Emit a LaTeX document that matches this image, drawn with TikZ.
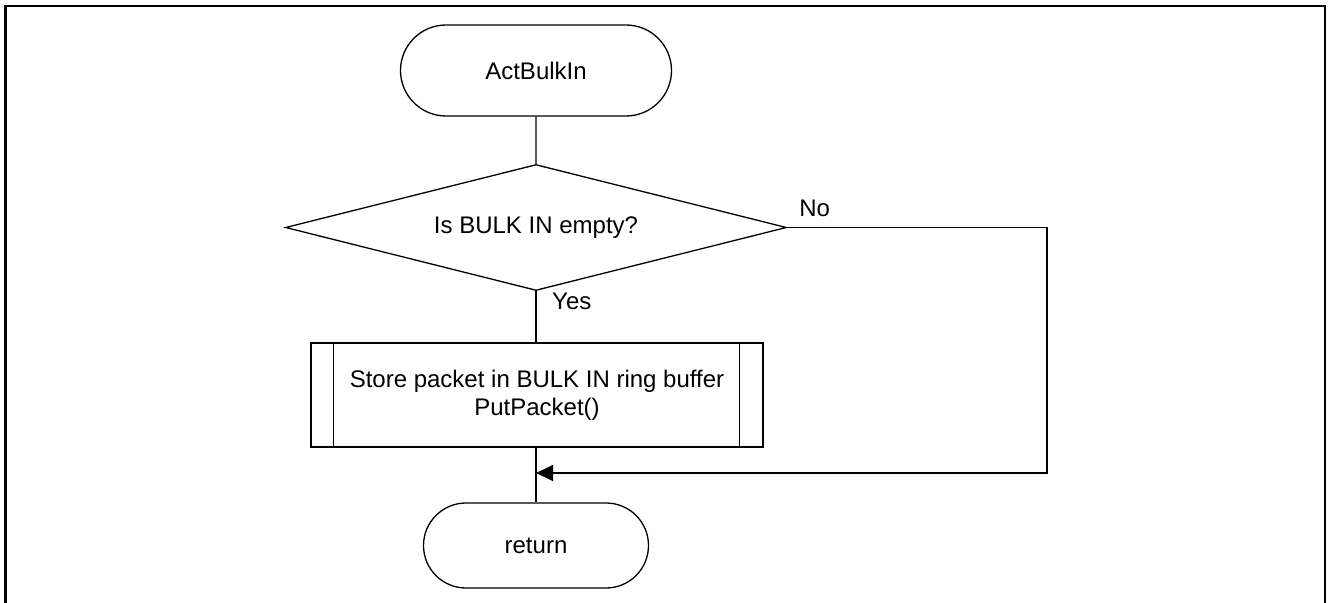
\documentclass[tikz,border=0pt]{standalone}
\usepackage{fontspec}
\setmainfont{Liberation Sans}
\usetikzlibrary{shapes.geometric,shapes.misc,arrows.meta}
\tikzset{
  base/.style={draw=black, line width=1.3bp, inner sep=0pt, align=center,
    font=\fontsize{24bp}{28bp}\selectfont},
  terminal/.style={base, rounded rectangle},
  decision/.style={base, diamond, aspect=4},
  subproc/.style={base, rectangle},
  conn/.style={draw=black, line width=1.3bp},
  lbl/.style={inner sep=0pt, font=\fontsize{24bp}{28bp}\selectfont},
  frame/.style={draw=black, line width=2.2bp}
}
\begin{document}
\begin{tikzpicture}[x=1bp,y=-1bp]
\useasboundingbox (0,0) rectangle (1328,603);
\draw[frame] (5.5,610) -- (5.5,6) -- (1325,6) -- (1325,610);

\node[terminal, minimum width=271bp, minimum height=91bp] (start) at (536,70.5) {ActBulkIn};
\node[decision, minimum width=501bp, minimum height=126bp] (dia) at (536,227.5) {Is BULK IN empty?};
\node[subproc, minimum width=452bp, minimum height=104bp] (box) at (537,395)
  {Store packet in BULK IN ring buffer\\PutPacket()};
\draw[conn] ([xshift=23bp]box.north west) -- ([xshift=23bp]box.south west);
\draw[conn] ([xshift=-24bp]box.north east) -- ([xshift=-24bp]box.south east);
\node[terminal, minimum width=225bp, minimum height=85bp] (ret) at (536,545.5) {return};

\coordinate (join) at (536,473);
\coordinate (rc) at (1047,473);

\draw[conn] (start) -- (dia);
\draw[conn] (dia.south) -- (dia.south |- box.north);
\draw[conn] (box.south -| ret.north) -- (ret.north);
\draw[conn, -{Triangle[length=17bp, width=16bp]}] (dia.east) -| (rc) -- (join);

\node[lbl, anchor=base west] (no) at ([xshift=12bp, yshift=11.5bp]dia.east) {No};
\node[lbl, anchor=base west] (yes) at ([xshift=16bp, yshift=-18bp]dia.south) {Yes};
\end{tikzpicture}
\end{document}
